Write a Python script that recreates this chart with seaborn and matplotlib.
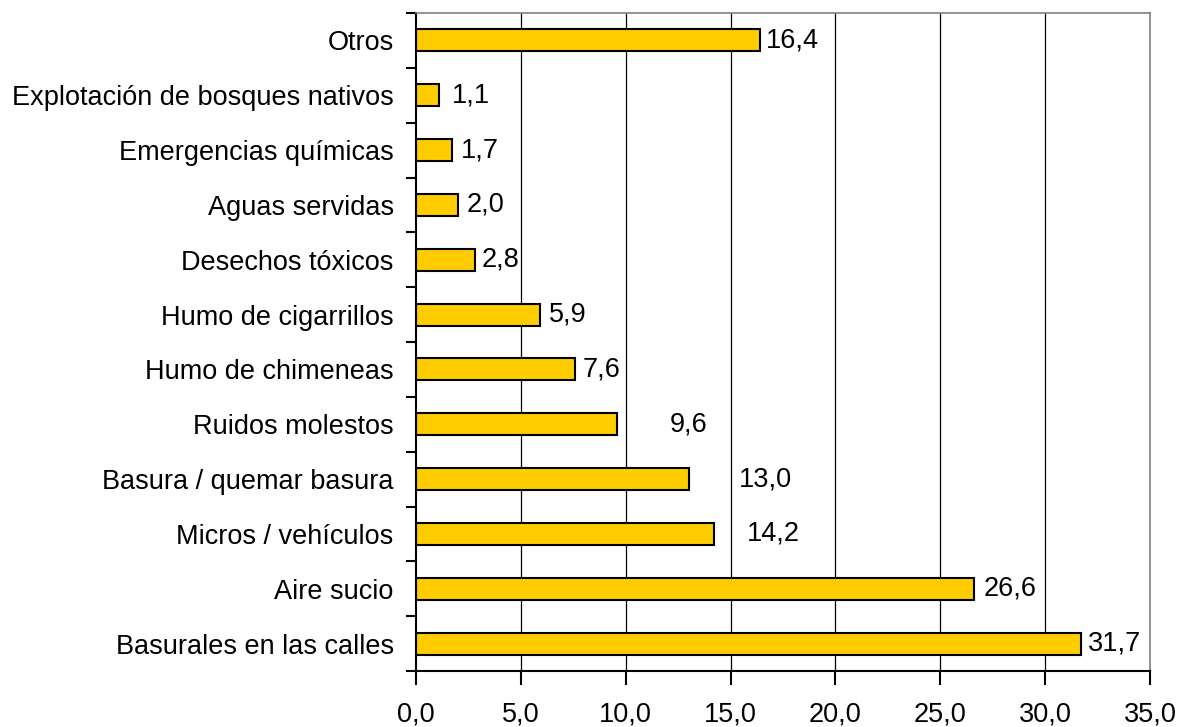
import pandas as pd
import seaborn as sns
import matplotlib.pyplot as plt

categories = ['Otros', 'Explotación de bosques nativos', 'Emergencias químicas',
              'Aguas servidas', 'Desechos tóxicos', 'Humo de cigarrillos',
              'Humo de chimeneas', 'Ruidos molestos', 'Basura / quemar basura',
              'Micros / vehículos', 'Aire sucio', 'Basurales en las calles']
values = [16.4, 1.1, 1.7, 2.0, 2.8, 5.9, 7.6, 9.6, 13.0, 14.2, 26.6, 31.7]
# extra gap (points) of the value labels, as placed in the original
label_gap = [4, 9, 7, 6, 5, 7, 5, 38, 36, 24, 7, 5]
xticks = [0, 5, 10, 15, 20, 25, 30, 35]

df = pd.DataFrame({'cat': categories, 'val': values})

sns.set_style('white')
plt.rcParams['font.family'] = ['Liberation Sans', 'DejaVu Sans']
plt.rcParams['text.color'] = 'black'
plt.rcParams['xtick.color'] = 'black'
plt.rcParams['ytick.color'] = 'black'

fig = plt.figure(figsize=(11.8, 7.27), dpi=100)
ax = fig.add_axes([0.3525, 0.077, 0.6221, 0.9051])
sns.barplot(data=df, x='val', y='cat', order=categories, color='#FFCC00',
            saturation=1, width=0.4, edgecolor='black', linewidth=1.5, ax=ax)

ax.set_xlim(0, 35)
ax.set_ylim(len(categories) - 0.5, -0.5)
ax.set_xlabel('')
ax.set_ylabel('')

# vertical grid
for x in xticks[1:-1]:
    ax.axvline(x, color='black', lw=0.9, zorder=0)

ax.set_xticks(xticks)
ax.set_xticklabels([f'{x:.1f}'.replace('.', ',') for x in xticks], fontsize=19.5)
ax.tick_params(axis='x', direction='out', length=10, width=1.5, pad=12, bottom=True)

ax.set_yticks([i - 0.5 for i in range(len(categories) + 1)])
ax.set_yticklabels([])
ax.set_yticks(range(len(categories)), minor=True)
ax.set_yticklabels(categories, minor=True, fontsize=19.5)
ax.tick_params(axis='y', which='major', direction='out', length=7, width=1.5, left=True)
ax.tick_params(axis='y', which='minor', length=0, pad=16)

for s in ['left', 'bottom']:
    ax.spines[s].set_color('black')
    ax.spines[s].set_linewidth(1.5)
for s in ['top', 'right']:
    ax.spines[s].set_color('#808080')
    ax.spines[s].set_linewidth(1.2)

for i, (v, g) in enumerate(zip(values, label_gap)):
    ax.annotate(f'{v:.1f}'.replace('.', ','), (v, i), xytext=(g, 0),
                textcoords='offset points', va='center', ha='left', fontsize=19.5)

fig.savefig('out.png', dpi=100)
